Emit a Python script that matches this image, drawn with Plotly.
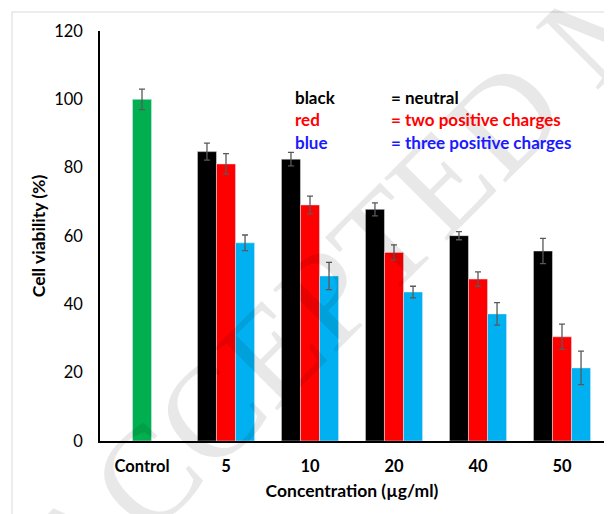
import plotly.graph_objects as go

categories = ["Control", "5", "10", "20", "40", "50"]
conc = ["5", "10", "20", "40", "50"]

control_value = [100]
control_err = [3.0]

neutral = [84.7, 82.5, 67.8, 60.1, 55.6]
neutral_err = [2.5, 2.0, 1.9, 1.2, 3.7]

two_pos = [81.1, 69.1, 55.2, 47.4, 30.5]
two_pos_err = [3.0, 2.6, 2.2, 2.1, 3.7]

three_pos = [58.0, 48.3, 43.6, 37.2, 21.4]
three_pos_err = [2.3, 4.0, 1.7, 3.3, 4.9]

yticks = [0, 20, 40, 60, 80, 100, 120]

FONT = "Lato"
TICK = 16.5
TITLE = 17.5
LEG = 17
err_style = dict(type="data", thickness=1.3, width=3, color="#595959")

fig = go.Figure()
fig.add_trace(go.Bar(x=conc, y=neutral, marker_color="#000000",
                     error_y=dict(array=neutral_err, **err_style), offsetgroup="1",
                     showlegend=False))
fig.add_trace(go.Bar(x=conc, y=two_pos, marker_color="#FF0000",
                     error_y=dict(array=two_pos_err, **err_style), offsetgroup="2",
                     showlegend=False))
fig.add_trace(go.Bar(x=conc, y=three_pos, marker_color="#00B0F0",
                     error_y=dict(array=three_pos_err, **err_style), offsetgroup="3",
                     showlegend=False))
fig.add_trace(go.Bar(x=["Control"], y=control_value, marker_color="#00B050",
                     error_y=dict(array=control_err, **err_style), offsetgroup="2",
                     showlegend=False))

# page body has an 8px margin; figure is sized/positioned to compensate
OFF = 8
W, H = 612 - OFF, 514 - OFF
L, R, T, B = 100 - OFF, 8, 31 - OFF, 73
pw, ph = W - L - R, H - T - B

def px(x):
    return (x - OFF - L) / pw

def py(y):
    return (H - B - (y - OFF)) / ph

legend_rows = [
    ("black", "= neutral", "#000000", 97),
    ("red", "= two positive charges", "#FF0000", 120),
    ("blue", "= three positive charges", "#1A1AFF", 142),
]
annotations = [
    dict(x=px(612), y=py(12), xref="paper", yref="paper", text="ACCEPTED MANUSCRIPT",
         showarrow=False, textangle=-45, xanchor="center", yanchor="middle",
         font=dict(family="Liberation Serif", size=135, color="rgba(0,0,0,0.09)")),
]
for key, desc, col, ypix in legend_rows:
    annotations.append(dict(x=px(293), y=py(ypix), xref="paper", yref="paper",
                            text="<b>%s</b>" % key, showarrow=False, xanchor="left",
                            yanchor="middle", font=dict(family=FONT, size=LEG, color=col)))
    annotations.append(dict(x=px(389), y=py(ypix), xref="paper", yref="paper",
                            text="<b>%s</b>" % desc, showarrow=False, xanchor="left",
                            yanchor="middle", font=dict(family=FONT, size=LEG, color=col)))

fig.update_layout(
    width=W, height=H,
    margin=dict(l=L, r=R, t=T, b=B, autoexpand=False),
    paper_bgcolor="white", plot_bgcolor="white",
    barmode="group", bargap=0.32, bargroupgap=0,
    font=dict(family=FONT, size=TICK, color="#000000"),
    annotations=annotations,
    shapes=[
        dict(type="line", xref="paper", yref="paper", x0=px(12), x1=px(612), y0=py(12), y1=py(12),
             line=dict(color="#D9D9D9", width=1)),
        dict(type="line", xref="paper", yref="paper", x0=px(12), x1=px(12), y0=py(12), y1=py(514),
             line=dict(color="#D9D9D9", width=1)),
    ],
)
fig.update_xaxes(categoryorder="array", categoryarray=categories, showline=True,
                 linecolor="#000000", linewidth=1.5, ticks="", showgrid=False, automargin=False,
                 tickfont=dict(family=FONT, size=TICK, color="#000000"),
                 ticklabelstandoff=9,
                 title=dict(text="<b>Concentration (µg/ml)</b>", standoff=10,
                            font=dict(family=FONT, size=TITLE, color="#000000")))
fig.update_yaxes(range=[0, 120], tickvals=yticks, showline=True, linecolor="#000000",
                 linewidth=1.5, ticks="", showgrid=False, zeroline=False, automargin=False,
                 tickfont=dict(family=FONT, size=TICK, color="#000000"),
                 ticklabelstandoff=12,
                 title=dict(text="<b>Cell viability (%)</b>", standoff=4,
                            font=dict(family=FONT, size=TITLE, color="#000000")))
fig.update_xaxes(tickprefix="<b>", ticksuffix="</b>")
fig.update_yaxes(tickprefix="<b>", ticksuffix="</b>")

fig.write_html("out.html")
